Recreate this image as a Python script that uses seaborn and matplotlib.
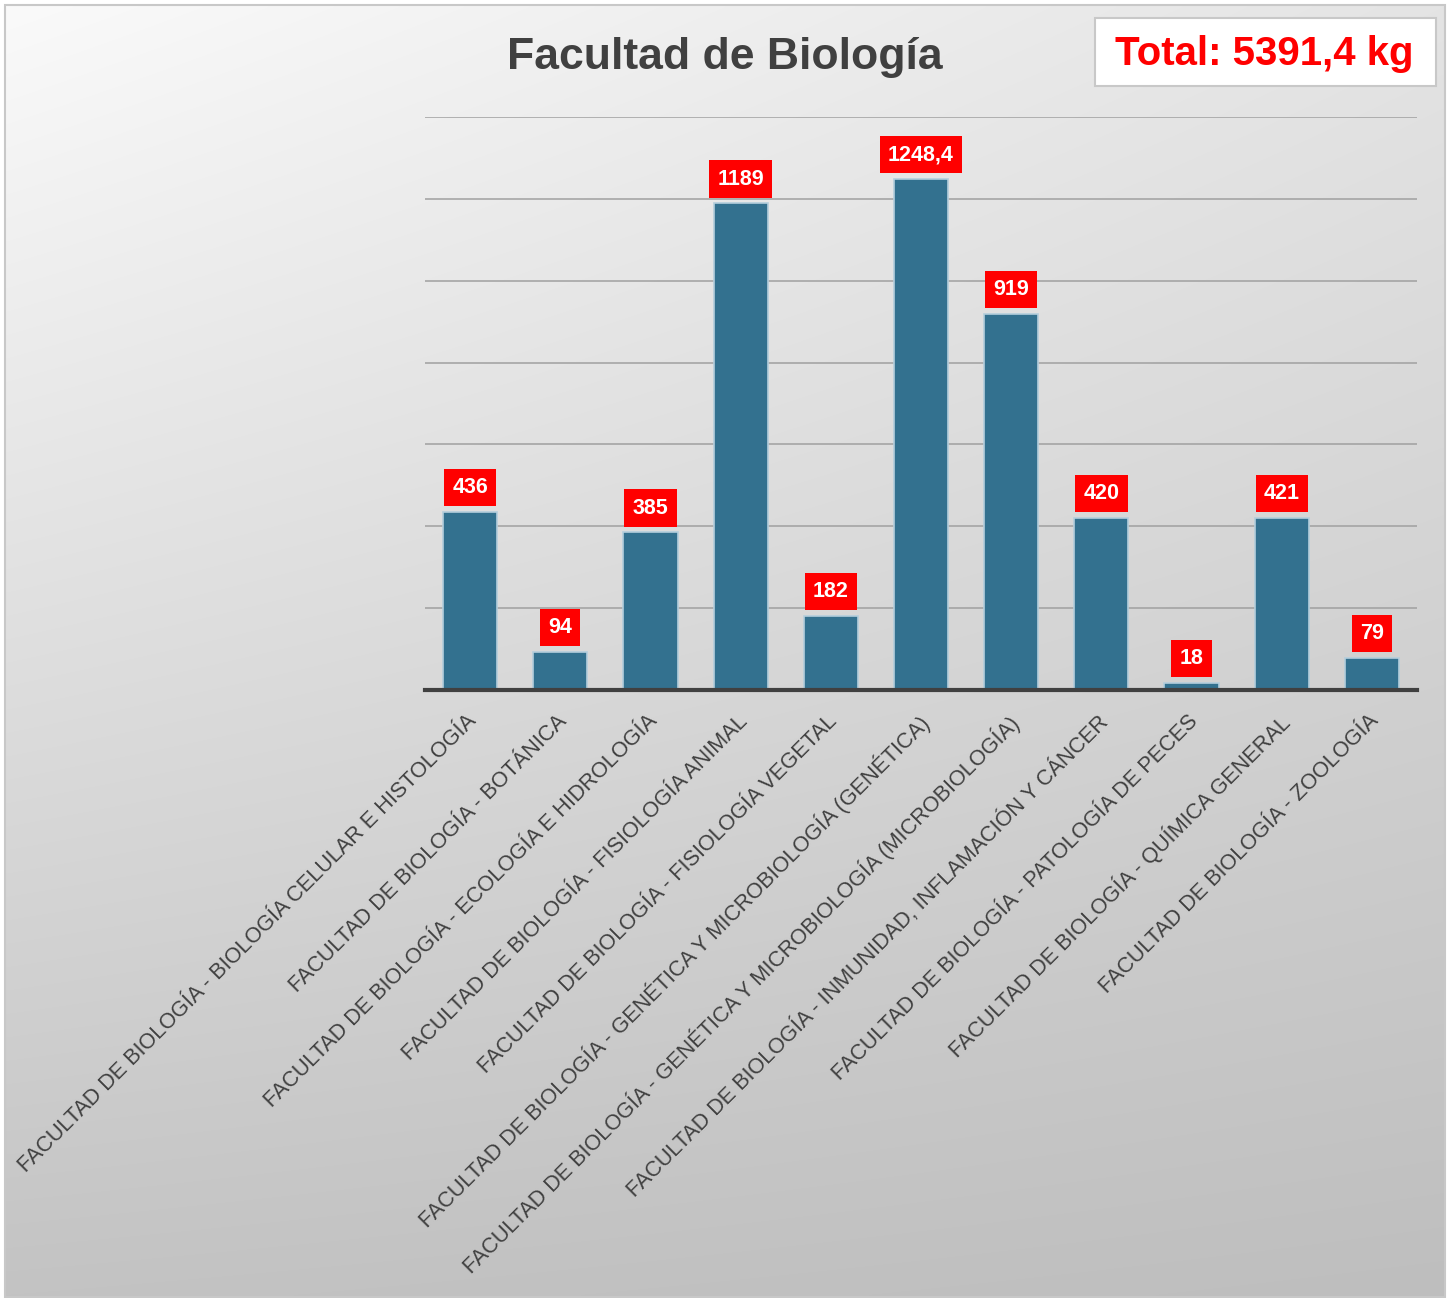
import numpy as np
import pandas as pd
import matplotlib
matplotlib.use("Agg")
import matplotlib.pyplot as plt
import seaborn as sns
from matplotlib.patches import Rectangle

categories = [
    "FACULTAD DE BIOLOGÍA - BIOLOGÍA CELULAR E HISTOLOGÍA",
    "FACULTAD DE BIOLOGÍA - BOTÁNICA",
    "FACULTAD DE BIOLOGÍA - ECOLOGÍA E HIDROLOGÍA",
    "FACULTAD DE BIOLOGÍA - FISIOLOGÍA ANIMAL",
    "FACULTAD DE BIOLOGÍA - FISIOLOGÍA VEGETAL",
    "FACULTAD DE BIOLOGÍA - GENÉTICA Y MICROBIOLOGÍA (GENÉTICA)",
    "FACULTAD DE BIOLOGÍA - GENÉTICA Y MICROBIOLOGÍA (MICROBIOLOGÍA)",
    "FACULTAD DE BIOLOGÍA - INMUNIDAD, INFLAMACIÓN Y CÁNCER",
    "FACULTAD DE BIOLOGÍA - PATOLOGÍA DE PECES",
    "FACULTAD DE BIOLOGÍA - QUÍMICA GENERAL",
    "FACULTAD DE BIOLOGÍA - ZOOLOGÍA",
]
values = [436, 94, 385, 1189, 182, 1248.4, 919, 420, 18, 421, 79]
value_labels = ["436", "94", "385", "1189", "182", "1248,4", "919", "420", "18", "421", "79"]
title = "Facultad de Biología"
total_text = "Total: 5391,4 kg"

df = pd.DataFrame({"cat": categories, "val": values})

sns.set_theme(style="white")
plt.rcParams['font.family'] = ['Liberation Sans', 'DejaVu Sans']

W, H = 1451, 1298
fig = plt.figure(figsize=(W / 100, H / 100), dpi=100)
fig.patch.set_facecolor("white")

# background gradient
bg = fig.add_axes([5 / W, 1 - 1297 / H, 1440 / W, 1292 / H], zorder=-10)
yy, xx = np.mgrid[0:1:300j, 0:1:300j]
v = 250 - 55 * yy - 22 * xx + 17 * xx * yy
img = np.dstack([v, v, v]) / 255.0
bg.imshow(img, aspect="auto", extent=[0, 1, 0, 1], origin="upper", interpolation="bilinear")
bg.set_axis_off()
bg.add_patch(Rectangle((0, 0), 1, 1, transform=bg.transAxes, fill=False,
                       edgecolor="#C8C8C8", lw=1.5, clip_on=False))

ax = fig.add_axes([425 / W, 1 - 690 / H, (1417 - 425) / W, (690 - 117) / H])
ax.patch.set_alpha(0)
sns.barplot(data=df, x="cat", y="val", ax=ax, color="#33718F", width=0.6,
            edgecolor="#B4CEDC", linewidth=1.2, saturation=1)
ax.set_xlim(-0.5, len(categories) - 0.5)
ax.set_ylim(0, 1400)
ax.set_yticks(np.arange(0, 1401, 200))
ax.set_yticklabels([])
ax.tick_params(axis="y", length=0)
ax.tick_params(axis="x", length=0, pad=15)
ax.grid(axis="y", color="#A0A0A0", lw=1.3, alpha=0.85)
ax.set_axisbelow(True)
for s in ["left", "right", "top"]:
    ax.spines[s].set_visible(False)
ax.spines["bottom"].set_color("#404040")
ax.spines["bottom"].set_linewidth(3)
ax.set_xlabel("")
ax.set_ylabel("")
ax.set_xticks(range(len(categories)))
ax.set_xticklabels(categories, rotation=45, ha="right", rotation_mode="anchor",
                   fontsize=15.6, color="#404040")
for lbl in ax.get_xticklabels():
    lbl.set_x(lbl.get_position()[0])
from matplotlib.transforms import ScaledTranslation
offset = ScaledTranslation(-4 / 100, 0, fig.dpi_scale_trans)
for lbl in ax.get_xticklabels():
    lbl.set_transform(lbl.get_transform() + offset)

for i, (val, lab) in enumerate(zip(values, value_labels)):
    ax.annotate(lab, (i, val), xytext=(0, 17.5), textcoords="offset points",
                ha="center", va="center", fontsize=15.5, fontweight="bold", color="white",
                bbox=dict(boxstyle="square,pad=0.38", fc="#FF0000", ec="none"))

fig.text(725 / W, 1 - 57 / H, title, ha="center", va="center", fontsize=32,
         fontweight="bold", color="#404040")

fig.patches.append(Rectangle((1095 / W, 1 - 86 / H), (1436 - 1095) / W, 68 / H,
                             transform=fig.transFigure, facecolor="white",
                             edgecolor="#C8C8C8", lw=1.5, figure=fig))
fig.text(1264 / W, 1 - 54 / H, total_text, ha="center", va="center", fontsize=29,
         fontweight="bold", color="#FF0000")

fig.savefig("out.png", dpi=100)
